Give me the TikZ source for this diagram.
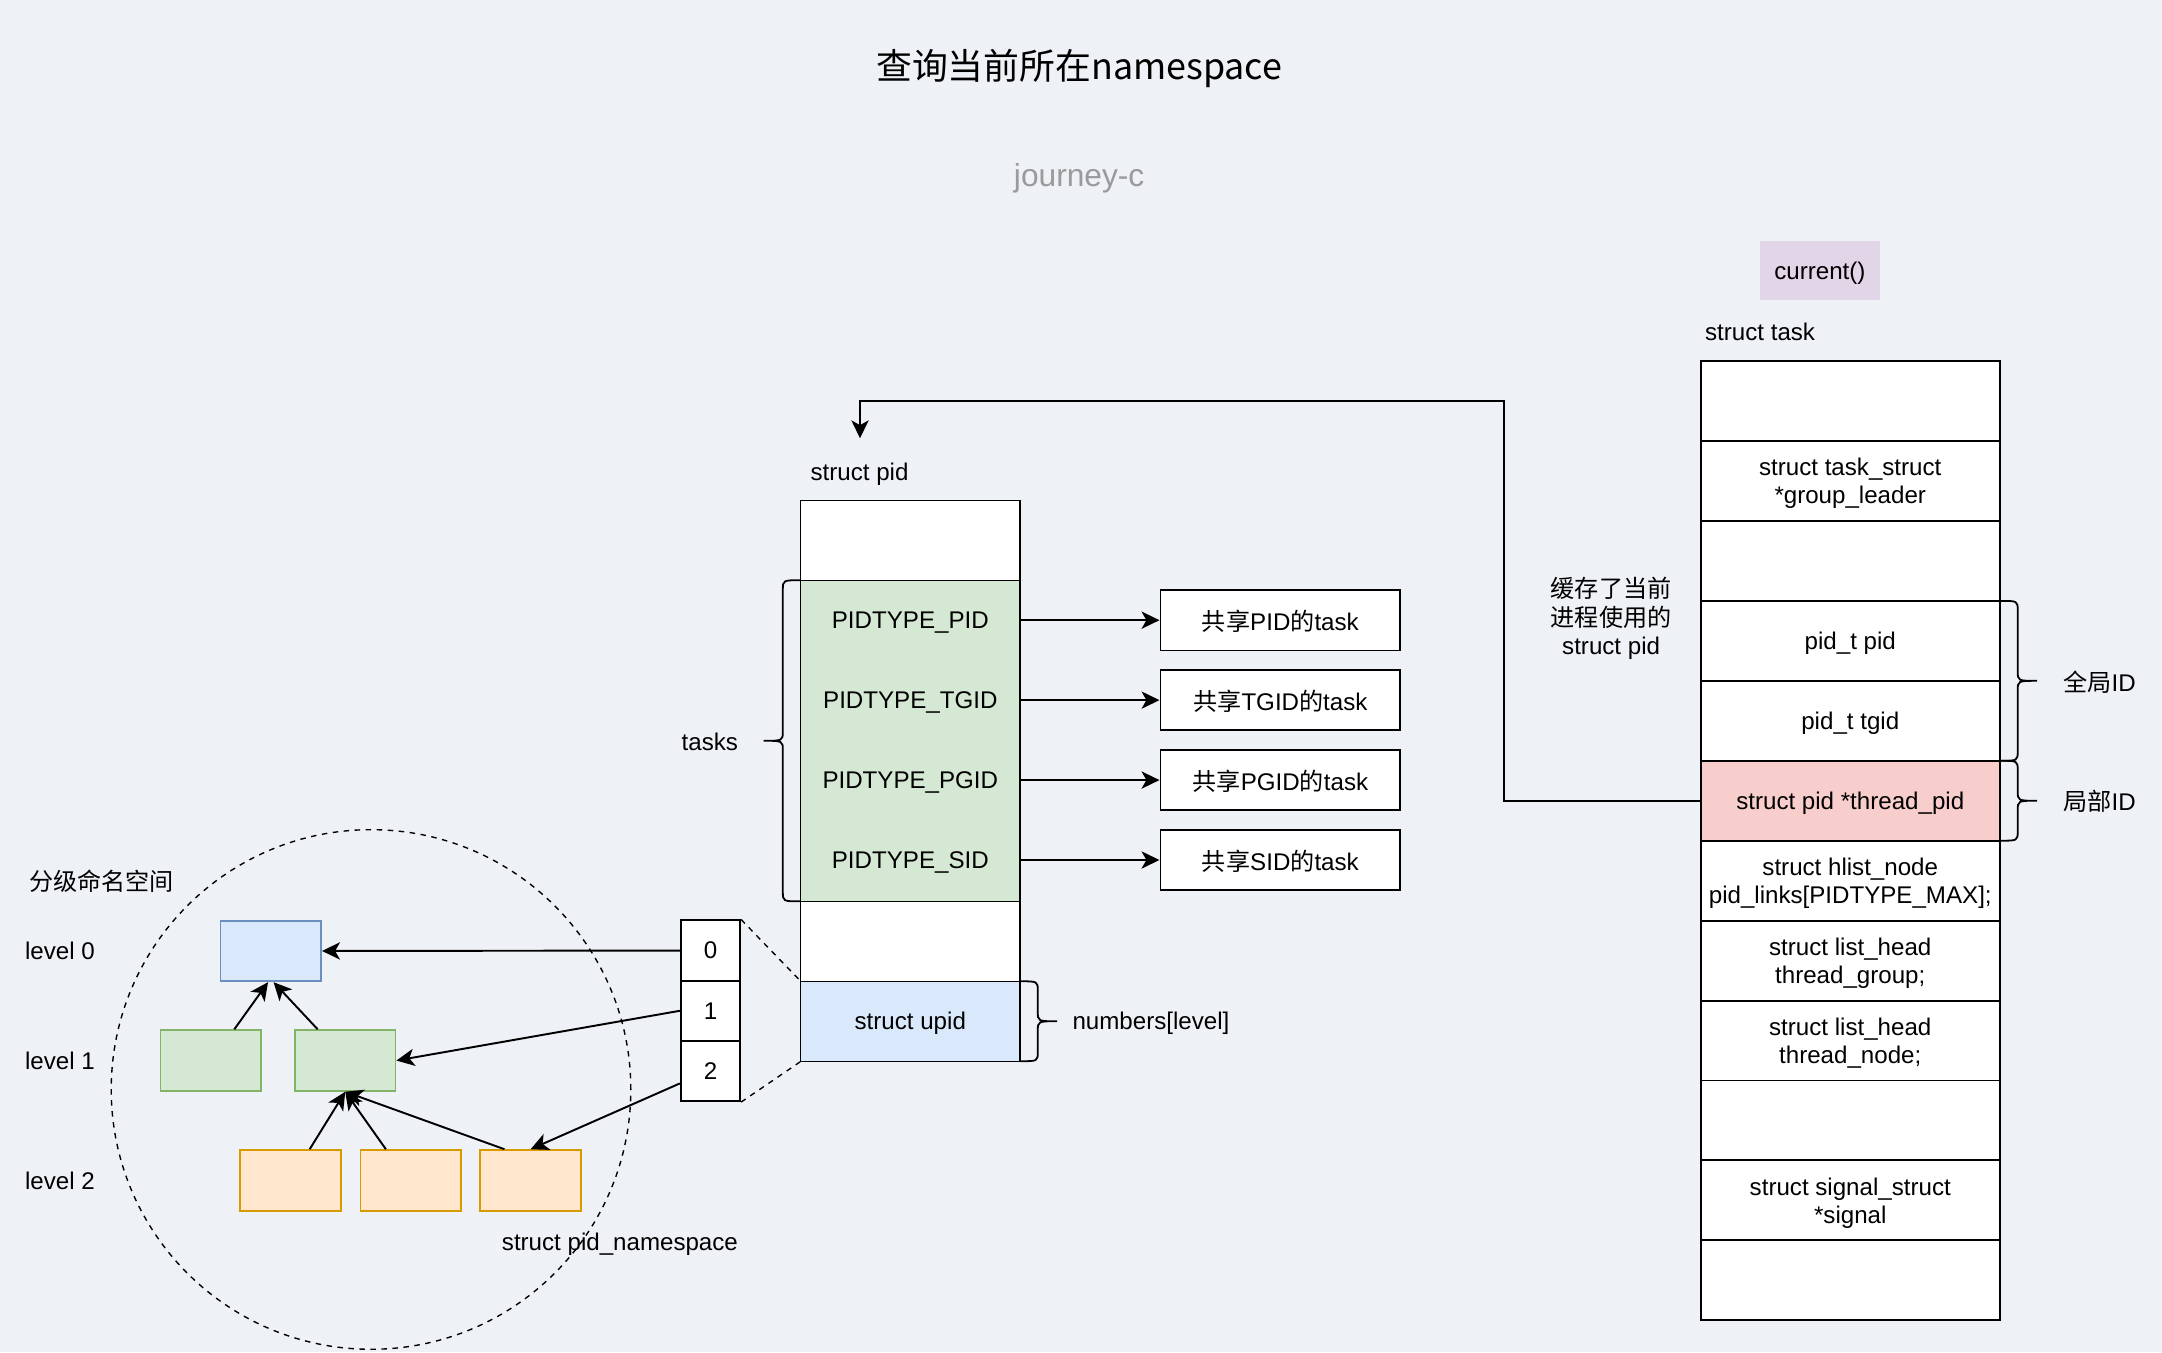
\documentclass[tikz,border=0pt]{standalone}
\usepackage{fontspec}
\setmainfont{Liberation Sans}
\newfontfamily\cjk{Noto Sans CJK SC}
\usetikzlibrary{arrows.meta,calc}
\definecolor{bgc}{HTML}{EEF1F5}
\definecolor{bluef}{HTML}{DAE8FC}
\definecolor{blues}{HTML}{6C8EBF}
\definecolor{greenf}{HTML}{D5E8D4}
\definecolor{greens}{HTML}{82B366}
\definecolor{orangef}{HTML}{FFE6CC}
\definecolor{oranges}{HTML}{D79B00}
\definecolor{pinkf}{HTML}{F8CECC}
\definecolor{purplef}{HTML}{E1D5E7}
\definecolor{graytxt}{HTML}{9A9A9A}
\newcommand{\lblfont}{\fontsize{17.5}{20.5}\selectfont}
\newcommand{\bracket}[4]{%
\draw[brc] (#1,#2) .. controls ({#1+13*#4},#2) .. ({#1+13*#4},{#2+7})
 -- ({#1+13*#4},{(#2+#3)/2-7}) .. controls ({#1+13*#4},{(#2+#3)/2}) .. ({#1+27*#4},{(#2+#3)/2})
 .. controls ({#1+13*#4},{(#2+#3)/2}) .. ({#1+13*#4},{(#2+#3)/2+7})
 -- ({#1+13*#4},{#3-7}) .. controls ({#1+13*#4},#3) .. (#1,#3);}
\begin{document}
\begin{tikzpicture}[x=1pt,y=-1pt,
  every node/.style={font=\lblfont, text=black, inner sep=0pt, text depth=0pt},
  tcell/.style={draw=black, line width=1.4pt, fill=white, minimum width=217pt, minimum height=58pt, align=center},
  pcell/.style={draw=black, line width=1pt, fill=white, minimum width=159pt, minimum height=58pt, align=center},
  ptxt/.style={minimum width=159pt, minimum height=58pt},
  shbox/.style={draw=black, line width=1.4pt, fill=white, minimum width=174pt, minimum height=44pt},
  abox/.style={draw=black, line width=1.4pt, fill=white, minimum width=43pt, minimum height=43.7pt},
  nsbox/.style={line width=1.3pt, minimum width=73pt, minimum height=44pt},
  arr/.style={line width=1.4pt, -{Stealth[length=13pt,width=12.5pt,inset=3.5pt]}},
  brc/.style={line width=1.3pt},
  dsh/.style={line width=1pt, dash pattern=on 4pt off 4pt}
]
\fill[bgc] (0,0) rectangle (1568.7,981);
\useasboundingbox (0,0) rectangle (1568.7,981);

% title
\node[font=\cjk\fontsize{26}{30}\selectfont] (title) at (783,47) {查询当前所在namespace};
\node[font=\fontsize{23}{26}\selectfont, text=graytxt] (author) at (783,127) {journey-c};

% namespace circle
\node[circle, draw=black, dsh, minimum size=377pt] (nscircle) at (269.2,790.5) {};
\node[anchor=west, font=\cjk\lblfont] (fenji) at (21,639) {分级命名空间};
\node[anchor=west] (lvl0) at (18,690) {level 0};
\node[anchor=west] (lvl1) at (18,770) {level 1};
\node[anchor=west] (lvl2) at (18,857) {level 2};
\node[anchor=west] (nslbl) at (364,901) {struct pid\_namespace};

\node[nsbox, draw=blues, fill=bluef] (b0) at (196.5,690) {};
\node[nsbox, draw=greens, fill=greenf] (g1) at (153,769.5) {};
\node[nsbox, draw=greens, fill=greenf] (g2) at (250.5,769.5) {};
\node[nsbox, draw=oranges, fill=orangef] (o1) at (210.7,856.5) {};
\node[nsbox, draw=oranges, fill=orangef] (o2) at (298,856.5) {};
\node[nsbox, draw=oranges, fill=orangef] (o3) at (385,856.5) {};

\draw[arr] ([xshift=17pt]g1.north) -- ([xshift=-2pt]b0.south);
\draw[arr] ([xshift=-20pt]g2.north) -- ([xshift=2pt]b0.south);
\draw[arr] ([xshift=14pt]o1.north) -- (g2.south);
\draw[arr] ([xshift=-18pt]o2.north) -- (g2.south);
\draw[arr] ([xshift=-19pt]o3.north) -- (g2.south);

% level array
\node[abox] (a0) at (515.5,689.7) {0};
\node[abox] (a1) at (515.5,733.4) {1};
\node[abox] (a2) at (515.5,777.1) {2};
\draw[arr] (a0.west) -- (b0.east);
\draw[arr] (a1.west) -- (g2.east);
\draw[arr] ([yshift=-9pt]a2.west) -- (o3.north);

% struct pid
\node[anchor=west] (pidlbl) at (588,342) {struct pid};
\node[pcell] (p0) at (660.5,392) {};
\node[draw=black, line width=1pt, fill=greenf, minimum width=159pt, minimum height=233pt] (pgreen) at (660.5,537.5) {};
\node[ptxt] (pPID) at (660.5,450) {PIDTYPE\_PID};
\node[ptxt] (pTGID) at (660.5,508) {PIDTYPE\_TGID};
\node[ptxt] (pPGID) at (660.5,566) {PIDTYPE\_PGID};
\node[ptxt] (pSID) at (660.5,624) {PIDTYPE\_SID};
\node[pcell] (p5) at (660.5,683) {};
\node[pcell, fill=bluef] (upid) at (660.5,741) {struct upid};

\node[shbox] (sPID) at (929,450) {{\cjk 共享}PID{\cjk 的}task};
\node[shbox] (sTGID) at (929,508) {{\cjk 共享}TGID{\cjk 的}task};
\node[shbox] (sPGID) at (929,566) {{\cjk 共享}PGID{\cjk 的}task};
\node[shbox] (sSID) at (929,624) {{\cjk 共享}SID{\cjk 的}task};
\draw[arr] (pPID.east) -- (sPID.west);
\draw[arr] (pTGID.east) -- (sTGID.west);
\draw[arr] (pPGID.east) -- (sPGID.west);
\draw[arr] (pSID.east) -- (sSID.west);

\bracket{581}{421}{654}{-1}
\node (taskslbl) at (515,538) {tasks};
\bracket{740}{712}{770}{1}
\node[anchor=west] (numlbl) at (778,741) {numbers[level]};

\draw[dsh] (a0.north east) -- (upid.north west);
\draw[dsh] (a2.south east) -- (upid.south west);

% struct task
\node[fill=purplef, minimum width=87pt, minimum height=43pt] (cur) at (1320.5,196.5) {current()};
\node[anchor=west] (tasklbl) at (1237,241) {struct task};
\node[tcell] (t1) at (1342.5,291) {};
\node[tcell] (t2) at (1342.5,349) {struct task\_struct\\{}*group\_leader};
\node[tcell] (t3) at (1342.5,407) {};
\node[tcell] (t4) at (1342.5,465) {pid\_t pid};
\node[tcell] (t5) at (1342.5,523) {pid\_t tgid};
\node[tcell, fill=pinkf] (t6) at (1342.5,581) {struct pid *thread\_pid};
\node[tcell] (t7) at (1342.5,639) {struct hlist\_node\\pid\_links[PIDTYPE\_MAX];};
\node[tcell] (t8) at (1342.5,697) {struct list\_head\\thread\_group;};
\node[tcell] (t9) at (1342.5,755) {struct list\_head\\thread\_node;};
\node[tcell] (t10) at (1342.5,813) {};
\node[tcell] (t11) at (1342.5,871) {struct signal\_struct\\{}*signal};
\node[tcell] (t12) at (1342.5,929) {};

\bracket{1451}{436}{552}{1}
\node[anchor=west] (globid) at (1497,494) {{\cjk 全局}ID};
\bracket{1451}{552}{610}{1}
\node[anchor=west] (locid) at (1497,581) {{\cjk 局部}ID};

\node[align=center] (cache) at (1169,447) {{\cjk 缓存了当前}\\{\cjk 进程使用的}\\struct pid};

\coordinate (bend) at (1091,291);
\coordinate (pidin) at (624,318);
\draw[arr] (t6.west) -| (bend) -| (pidin);
\end{tikzpicture}
\end{document}
